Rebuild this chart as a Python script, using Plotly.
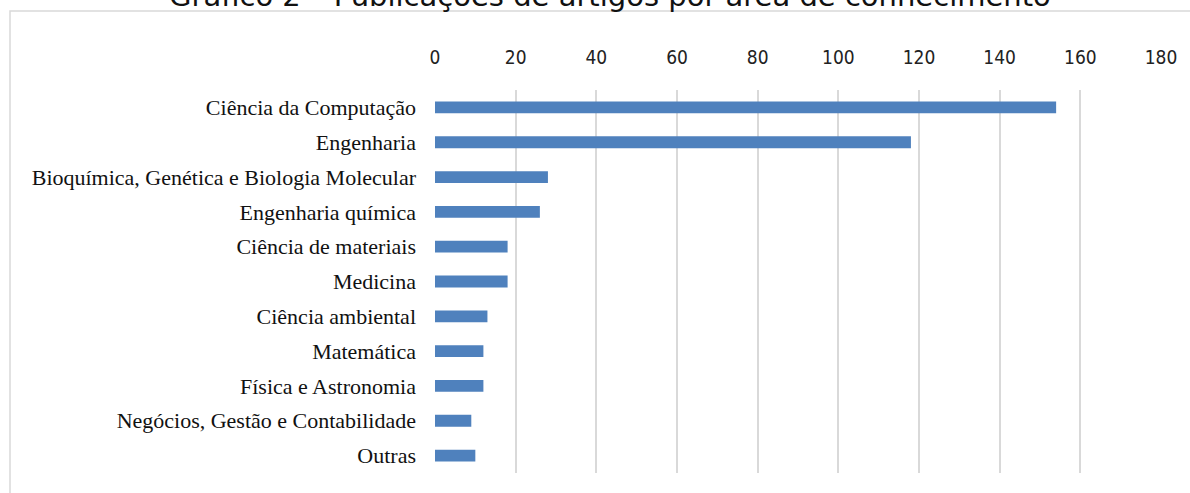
import plotly.graph_objects as go

categories = [
    "Ciência da Computação",
    "Engenharia",
    "Bioquímica, Genética e Biologia Molecular",
    "Engenharia química",
    "Ciência de materiais",
    "Medicina",
    "Ciência ambiental",
    "Matemática",
    "Física e Astronomia",
    "Negócios, Gestão e Contabilidade",
    "Outras",
]
values = [154, 118, 28, 26, 18, 18, 13, 12, 12, 9, 10]
tick_vals = [0, 20, 40, 60, 80, 100, 120, 140, 160, 180]
title_text = "Gráfico 2 – Publicações de artigos por área de conhecimento"

W, H = 1190, 493
L, R, T, B = 435, 29, 90, 20
pw, ph = W - L - R, H - T - B

fig = go.Figure(go.Bar(
    y=categories, x=values, orientation="h",
    marker=dict(color="#4f81bd", line=dict(width=0)),
))

fig.update_layout(
    width=W, height=H,
    margin=dict(l=L, r=R, t=T, b=B, pad=0),
    paper_bgcolor="white", plot_bgcolor="white",
    showlegend=False, bargap=0.66,
    xaxis=dict(
        side="top", range=[0, 180], tickvals=tick_vals,
        showgrid=True, gridcolor="#d9d9d9", gridwidth=1.5,
        zeroline=False, showline=False,
        tickfont=dict(family="DejaVu Sans Condensed, DejaVu Sans", size=19, color="#222"),
        ticklabelstandoff=21,
    ),
    yaxis=dict(
        autorange="reversed", showgrid=False, zeroline=False, showline=False,
        tickfont=dict(family="Liberation Serif, Times New Roman", size=22, color="#111"),
        ticklabelstandoff=18,
    ),
    shapes=[dict(
        type="rect", xref="paper", yref="paper",
        x0=(10 - L) / pw, x1=1.2, y0=-0.2, y1=1 + (T - 11) / ph,
        line=dict(color="#d9d9d9", width=1.5), fillcolor="rgba(0,0,0,0)", layer="below",
    )],
    annotations=[dict(
        text=title_text, xref="paper", yref="paper",
        x=(610 - L) / pw, y=1 + (T - (-4)) / ph, xanchor="center", yanchor="middle",
        showarrow=False, font=dict(family="DejaVu Sans", size=29, color="#111"),
    )],
)

fig.write_html("out.html")
